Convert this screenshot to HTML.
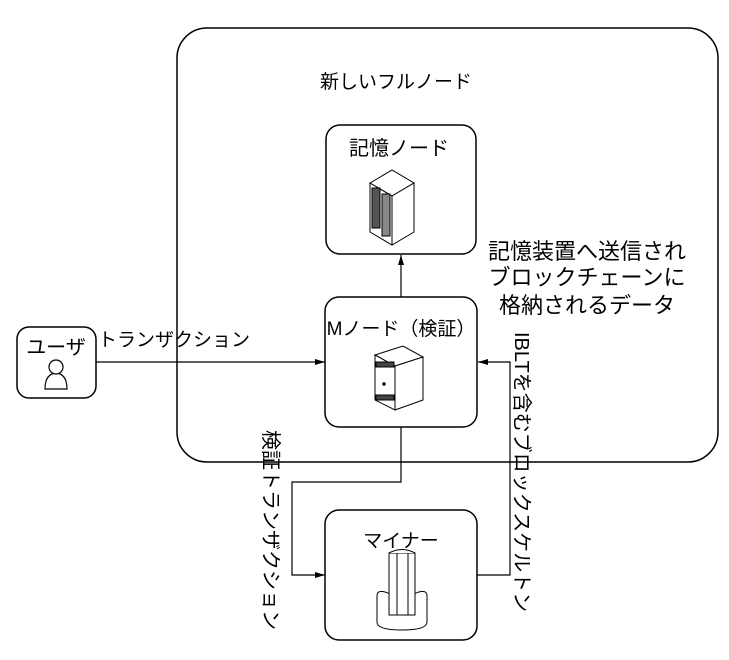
<!DOCTYPE html>
<html><head><meta charset="utf-8"><style>
html,body{margin:0;padding:0;background:#fff;}
svg{display:block;}
text{font-family:"Liberation Sans","Noto Sans CJK JP",sans-serif;fill:#000;}
</style></head><body>
<svg width="729" height="660" viewBox="0 0 729 660" xmlns="http://www.w3.org/2000/svg">
<defs>
<marker id="a" markerWidth="10" markerHeight="8" refX="10" refY="4" orient="auto" markerUnits="userSpaceOnUse">
<path d="M0,1 L10,4 L0,7 Z" fill="#000"/></marker>
</defs>
<g fill="none" stroke="#000" stroke-width="1.5">
<rect x="177" y="28" width="541" height="434" rx="30"/>
<rect x="326" y="125" width="150" height="129" rx="14"/>
<rect x="325" y="297" width="152" height="130" rx="14"/>
<rect x="325" y="510" width="152" height="130" rx="14"/>
<rect x="17" y="327" width="79" height="71" rx="12"/>
</g>
<g fill="none" stroke="#000" stroke-width="1.2">
<line x1="96" y1="362" x2="325" y2="362" marker-end="url(#a)"/>
<line x1="401" y1="297" x2="401" y2="255" marker-end="url(#a)"/>
<polyline points="401,427 401,482 292,482 292,575 325,575" marker-end="url(#a)"/>
<polyline points="477,575 510,575 510,362 478,362" marker-end="url(#a)"/>
</g>
<text x="320" y="88" font-size="19">新しいフルノード</text>
<text x="399" y="155" font-size="20" text-anchor="middle">記憶ノード</text>
<text x="401" y="335" font-size="19" text-anchor="middle">Mノード（検証）</text>
<text x="401" y="547" font-size="19" text-anchor="middle">マイナー</text>
<text x="56" y="354" font-size="20" text-anchor="middle">ユーザ</text>
<text x="98" y="346" font-size="19">トランザクション</text>
<text x="587" y="259" font-size="22" text-anchor="middle">記憶装置へ送信され</text>
<text x="587" y="285" font-size="22" text-anchor="middle">ブロックチェーンに</text>
<text x="587" y="313" font-size="22" text-anchor="middle">格納されるデータ</text>
<text transform="translate(264,430) rotate(90)" font-size="20">検証トランザクション</text>
<text transform="translate(515,332) rotate(90)" font-size="20">IBLTを含むブロックスケルトン</text>
<!-- storage server icon -->
<g stroke="#000" stroke-width="1" fill="#fff">
<polygon points="370,183 392,170 414,183 392,196"/>
<polygon points="370,183 392,196 392,245 370,232"/>
<polygon points="392,196 414,183 414,232 392,245"/>
<rect x="372" y="188" width="8" height="40" fill="#555"/>
<rect x="382" y="194" width="8" height="42" fill="#888"/>
</g>
<!-- M node server icon -->
<g stroke="#000" stroke-width="1" fill="#fff">
<polygon points="375,355 403,346 423,357 395,366"/>
<polygon points="375,355 395,366 395,410 375,400"/>
<polygon points="395,366 423,357 423,400 395,410"/>
<rect x="376" y="362" width="18" height="5" fill="#444"/>
<rect x="376" y="395" width="18" height="5" fill="#444"/>
<circle cx="384" cy="384" r="1.2" fill="#000"/>
</g>
<!-- user icon -->
<g stroke="#000" stroke-width="1.2" fill="#fff">
<path d="M45,389 Q45,374 56,373 Q67,374 67,389 Z"/>
<circle cx="56" cy="367" r="7"/>
</g>
<!-- miner icon -->
<g stroke="#000" stroke-width="1" fill="#fff">
<path d="M377,596 Q377,588 390,594 L414,594 Q427,588 427,596 L427,622 Q427,630 402,630 Q377,630 377,622 Z"/>
<rect x="389" y="553" width="26" height="62"/>
<path d="M389,553 Q402,546 415,553"/>
<line x1="397" y1="553" x2="397" y2="615"/>
<line x1="408" y1="553" x2="408" y2="615"/>
</g>
</svg>
</body></html>
